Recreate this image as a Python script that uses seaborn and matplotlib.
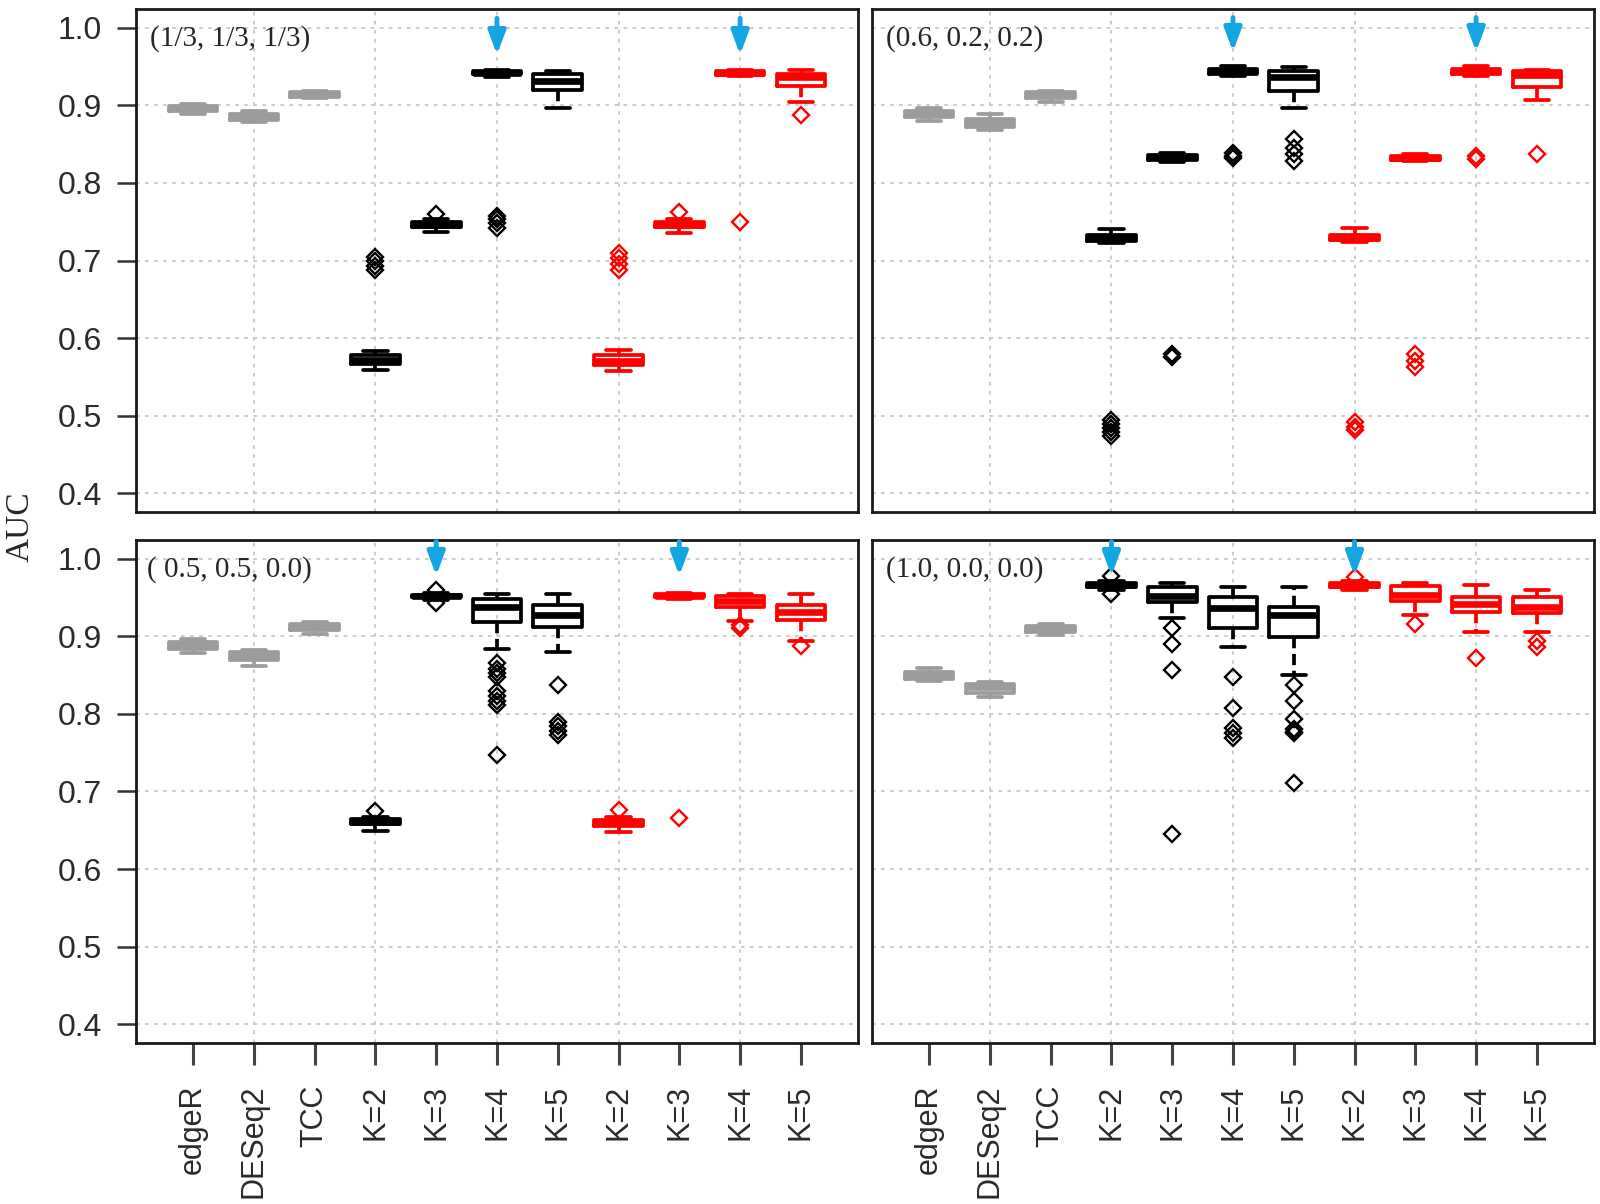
import numpy as np
import pandas as pd
import matplotlib
matplotlib.use("Agg")
import matplotlib.pyplot as plt
import seaborn as sns

# x categories (two groups of K, black = TCC-based, red = other)
labels = ["edgeR", "DESeq2", "TCC", "K=2", "K=3", "K=4", "K=5", "K=2", "K=3", "K=4", "K=5"]
keys = [f"{i}:{lab}" for i, lab in enumerate(labels)]

titles = ["(1/3, 1/3, 1/3)", "(0.6, 0.2, 0.2)", "( 0.5, 0.5, 0.0)", "(1.0, 0.0, 0.0)"]

# panel 1 : (1/3, 1/3, 1/3)
p1_lo  = [0.889, 0.878, 0.909, 0.559, 0.737, 0.937, 0.897, 0.558, 0.736, 0.938, 0.904]
p1_q1  = [0.892, 0.881, 0.911, 0.567, 0.743, 0.940, 0.920, 0.565, 0.743, 0.939, 0.925]
p1_med = [0.897, 0.885, 0.914, 0.572, 0.746, 0.942, 0.931, 0.570, 0.746, 0.941, 0.936]
p1_q3  = [0.899, 0.889, 0.917, 0.578, 0.749, 0.944, 0.940, 0.578, 0.749, 0.944, 0.940]
p1_hi  = [0.901, 0.892, 0.919, 0.584, 0.753, 0.946, 0.944, 0.585, 0.754, 0.946, 0.946]
p1_out = [[], [], [], [0.688, 0.693, 0.699, 0.704], [0.760], [0.742, 0.748, 0.753, 0.757], [],
          [0.688, 0.695, 0.703, 0.710], [0.762], [0.749], [0.888]]

# panel 2 : (0.6, 0.2, 0.2)
p2_lo  = [0.880, 0.868, 0.904, 0.722, 0.827, 0.938, 0.896, 0.724, 0.828, 0.938, 0.907]
p2_q1  = [0.885, 0.872, 0.909, 0.725, 0.830, 0.940, 0.918, 0.726, 0.830, 0.940, 0.924]
p2_med = [0.889, 0.877, 0.913, 0.729, 0.833, 0.944, 0.937, 0.729, 0.832, 0.944, 0.939]
p2_q3  = [0.893, 0.882, 0.917, 0.733, 0.836, 0.947, 0.944, 0.733, 0.835, 0.947, 0.944]
p2_hi  = [0.897, 0.889, 0.919, 0.740, 0.838, 0.951, 0.949, 0.742, 0.837, 0.950, 0.946]
p2_out = [[], [], [], [0.474, 0.479, 0.484, 0.489, 0.495], [0.576, 0.580], [0.832, 0.835, 0.838],
          [0.828, 0.837, 0.845, 0.857], [0.481, 0.486, 0.492], [0.563, 0.570, 0.580], [0.831, 0.835], [0.837]]

# panel 3 : (0.5, 0.5, 0.0)
p3_lo  = [0.878, 0.862, 0.903, 0.649, 0.947, 0.883, 0.880, 0.648, 0.948, 0.920, 0.894]
p3_q1  = [0.884, 0.869, 0.908, 0.658, 0.950, 0.918, 0.912, 0.656, 0.950, 0.938, 0.921]
p3_med = [0.889, 0.875, 0.912, 0.661, 0.952, 0.938, 0.928, 0.659, 0.952, 0.946, 0.931]
p3_q3  = [0.893, 0.880, 0.916, 0.664, 0.953, 0.948, 0.940, 0.663, 0.954, 0.952, 0.940]
p3_hi  = [0.897, 0.882, 0.918, 0.667, 0.956, 0.954, 0.954, 0.667, 0.956, 0.954, 0.954]
p3_out = [[], [], [], [0.675], [0.943, 0.960],
          [0.747, 0.811, 0.816, 0.823, 0.830, 0.848, 0.853, 0.858, 0.866],
          [0.773, 0.778, 0.785, 0.790, 0.837], [0.676], [0.666], [0.910, 0.914], [0.888]]

# panel 4 : (1.0, 0.0, 0.0)
p4_lo  = [0.842, 0.822, 0.901, 0.960, 0.924, 0.886, 0.850, 0.960, 0.927, 0.906, 0.905]
p4_q1  = [0.845, 0.827, 0.906, 0.964, 0.944, 0.910, 0.899, 0.964, 0.946, 0.931, 0.930]
p4_med = [0.849, 0.834, 0.910, 0.966, 0.952, 0.936, 0.928, 0.966, 0.953, 0.941, 0.938]
p4_q3  = [0.854, 0.839, 0.913, 0.968, 0.964, 0.950, 0.938, 0.968, 0.965, 0.951, 0.951]
p4_hi  = [0.859, 0.841, 0.916, 0.971, 0.969, 0.963, 0.963, 0.971, 0.969, 0.966, 0.960]
p4_out = [[], [], [], [0.955, 0.977], [0.645, 0.857, 0.890, 0.910], [0.769, 0.775, 0.782, 0.808, 0.848],
          [0.711, 0.775, 0.777, 0.780, 0.794, 0.817, 0.837], [0.976], [0.916], [0.872], [0.886, 0.894]]

# blue arrows: (category index) per panel
arrow_idx = [[5, 9], [5, 9], [4, 8], [3, 7]]


def long_table(lo, q1, med, q3, hi, out, n=30):
    # rebuild a sample whose box statistics equal the read-off values
    rows = []
    for k, a, b, c, d, e, o in zip(keys, lo, q1, med, q3, hi, out):
        vals = [a] + [b] * n + [c] * n + [d] * n + [e] + list(o)
        rows += [(k, v) for v in vals]
    return pd.DataFrame(rows, columns=["method", "AUC"])


panels = [
    long_table(p1_lo, p1_q1, p1_med, p1_q3, p1_hi, p1_out),
    long_table(p2_lo, p2_q1, p2_med, p2_q3, p2_hi, p2_out),
    long_table(p3_lo, p3_q1, p3_med, p3_q3, p3_hi, p3_out),
    long_table(p4_lo, p4_q1, p4_med, p4_q3, p4_hi, p4_out),
]

sns.set_style("white")
plt.rcParams["font.family"] = ["Liberation Sans", "DejaVu Sans"]

palette = ["#9c9c9c"] * 3 + ["#000000"] * 4 + ["#ff0000"] * 4
blue = "#14a5e3"
gridc = "#c8c8c8"

fig = plt.figure(figsize=(16, 12.04), dpi=100)
W, H = 1600, 1204
boxes = [(136, 9, 722, 503), (872, 9, 722, 503), (136, 540, 722, 503), (872, 540, 722, 503)]
arrow_y = [(1.012, 0.965), (1.013, 0.969), (1.022, 0.978), (1.022, 0.978)]

for i, (df, (x0, y0, w, h)) in enumerate(zip(panels, boxes)):
    ax = fig.add_axes([x0 / W, 1 - (y0 + h) / H, w / W, h / H])
    sns.boxplot(data=df, x="method", y="AUC", hue="method", order=keys, hue_order=keys,
                palette=palette, fill=False, dodge=False, legend=False, width=0.8,
                whis=1.5, linewidth=2.7, ax=ax,
                medianprops=dict(linewidth=4.8),
                whiskerprops=dict(linestyle=(0, (3, 1.5))),
                flierprops=dict(marker="D", markersize=8.5, markeredgewidth=1.7,
                                markerfacecolor="none"))
    ax.set_xlim(-0.94, 10.94)
    ax.set_ylim(0.376, 1.024)
    ax.set_yticks([0.4, 0.5, 0.6, 0.7, 0.8, 0.9, 1.0])
    ax.set_xticks(range(len(keys)))
    ax.yaxis.grid(True, color=gridc, linestyle=(0, (2, 3)), linewidth=1.3)
    for gx in [1, 3, 5, 7, 9]:
        ax.axvline(gx, color=gridc, linestyle=(0, (2, 3)), linewidth=1.3, zorder=0)
    ax.set_axisbelow(True)
    ax.set_xlabel("")
    ax.set_ylabel("")
    for sp in ax.spines.values():
        sp.set_color("#1a1a1a")
        sp.set_linewidth(2.0)
    if i % 2 == 0:
        ax.set_yticklabels([f"{v:.1f}" for v in ax.get_yticks()])
        ax.tick_params(axis="y", direction="out", length=13.5, width=1.8, color="#333333",
                       labelsize=23, pad=11, labelcolor="#2a2a2a", left=True)
    else:
        ax.tick_params(axis="y", left=False, labelleft=False)
    if i >= 2:
        ax.set_xticklabels(labels, rotation=90, va="top", ha="center")
        ax.tick_params(axis="x", direction="out", length=16, width=2.2,
                       color="#444444", labelsize=22, pad=14, labelcolor="#2a2a2a", bottom=True)
    else:
        ax.tick_params(axis="x", bottom=False, labelbottom=False)

    ax.text(0.02 if i != 2 else 0.015, 0.941, titles[i], transform=ax.transAxes,
            family=["Liberation Serif", "DejaVu Serif"], fontsize=21, va="center", ha="left")

    tail, tip = arrow_y[i]
    for k in arrow_idx[i]:
        ax.annotate("", xy=(k, tip), xytext=(k, tail),
                    arrowprops=dict(arrowstyle="-|>,head_length=0.7,head_width=0.26",
                                    lw=3.5, color=blue, mutation_scale=20,
                                    shrinkA=0, shrinkB=0))

fig.text(20 / W, 1 - 527 / H, "AUC", rotation=90, va="center", ha="center",
         family=["Liberation Serif", "DejaVu Serif"], fontsize=24)

fig.savefig("out.png", dpi=100)
